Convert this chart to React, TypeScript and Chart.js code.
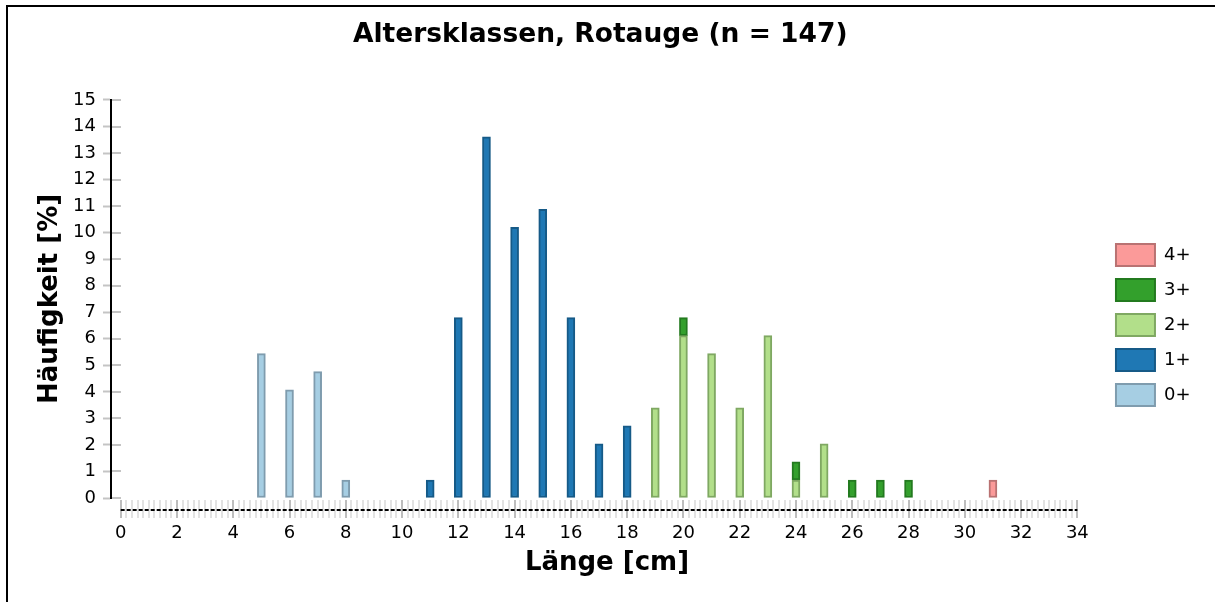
import React, { useEffect, useRef } from "react";
import { Chart, registerables } from "chart.js";

Chart.register(...registerables);

// ---- data (percent of n = 147) ----
const chartTitle = "Altersklassen, Rotauge (n = 147)";
const xTitle = "Länge [cm]";
const yTitle = "Häufigkeit [%]";

const ageClasses = ["0+", "1+", "2+", "3+", "4+"];

const lengths0 = [5, 6, 7, 8];
const values0 = [5.44, 4.08, 4.76, 0.68];

const lengths1 = [11, 12, 13, 14, 15, 16, 17, 18];
const values1 = [0.68, 6.8, 13.61, 10.2, 10.88, 6.8, 2.04, 2.72];

const lengths2 = [19, 20, 21, 22, 23, 24, 25];
const values2 = [3.4, 6.12, 5.44, 3.4, 6.12, 0.68, 2.04];

const lengths3 = [20, 24, 26, 27, 28];
const values3 = [0.68, 0.68, 0.68, 0.68, 0.68];

const lengths4 = [31];
const values4 = [0.68];

const xTickValues = [0, 2, 4, 6, 8, 10, 12, 14, 16, 18, 20, 22, 24, 26, 28, 30, 32, 34];
const yTickMin = 0;
const yTickMax = 15;

const fillColors = ["#a6cee3", "#1f78b4", "#b2df8a", "#33a02c", "#fb9a99"];
const borderColors = ["#7f9cae", "#165a87", "#7fa862", "#237a1f", "#b97272"];

const FONT = "'DejaVu Sans', sans-serif";

const toPoints = (xs: number[], ys: number[]) => xs.map((x, i) => ({ x, y: ys[i] }));

const axisBandPlugin = {
  id: "axisBand",
  afterDraw(chart: any) {
    const { ctx, scales, chartArea } = chart;
    const xs = scales.x;
    const ys = scales.y;
    ctx.save();
    // right part of y ticks crossing the axis line
    ctx.strokeStyle = "#c4c4c4";
    ctx.lineWidth = 2;
    ys.ticks.forEach((t: any) => {
      const py = Math.round(ys.getPixelForValue(t.value));
      ctx.beginPath();
      ctx.moveTo(chartArea.left + 1, py);
      ctx.lineTo(chartArea.left + 10, py);
      ctx.stroke();
    });
    // x band: minor ticks every 0.2, major every 2
    const first = xTickValues[0];
    const last = xTickValues[xTickValues.length - 1];
    const steps = Math.round((last - first) * 5);
    const yTop = chartArea.bottom + 2;
    const yBot = chartArea.bottom + 20;
    for (let k = 0; k <= steps; k++) {
      const v = first + k / 5;
      const px = Math.round(xs.getPixelForValue(v));
      ctx.strokeStyle = k % 10 === 0 ? "#bdbdbd" : "#e2e2e2";
      ctx.lineWidth = 2;
      ctx.beginPath();
      ctx.moveTo(px, yTop);
      ctx.lineTo(px, yBot);
      ctx.stroke();
    }
    ctx.strokeStyle = "#000";
    ctx.lineWidth = 2;
    ctx.setLineDash([4, 2]);
    ctx.beginPath();
    const yMid = chartArea.bottom + 12;
    ctx.moveTo(xs.getPixelForValue(first), yMid);
    ctx.lineTo(xs.getPixelForValue(last), yMid);
    ctx.stroke();
    ctx.restore();
  },
};

export default function App() {
  const ref = useRef<HTMLCanvasElement | null>(null);

  useEffect(() => {
    if (!ref.current) return;
    const seriesX = [lengths0, lengths1, lengths2, lengths3, lengths4];
    const seriesY = [values0, values1, values2, values3, values4];
    const chart = new Chart(ref.current, {
      type: "bar",
      data: {
        datasets: ageClasses.map((label, i) => ({
          label,
          data: toPoints(seriesX[i], seriesY[i]),
          backgroundColor: fillColors[i],
          borderColor: borderColors[i],
          borderWidth: 2,
          borderSkipped: false,
          barThickness: 8,
        })) as any,
      },
      options: {
        responsive: false,
        animation: false,
        devicePixelRatio: 1,
        layout: { padding: { left: 0, right: 14.5, top: 0, bottom: 0 } },
        plugins: {
          title: {
            display: true,
            text: chartTitle,
            color: "#000",
            font: { family: FONT, size: 26.5, weight: "bold" },
            padding: { top: 18.9, bottom: 49.3 },
          },
          legend: {
            position: "right",
            reverse: true,
            title: { display: true, text: "", font: { size: 10 }, padding: { top: 36, bottom: 0 } },
            labels: {
              boxWidth: 39,
              boxHeight: 22,
              padding: 13,
              color: "#000",
              font: { family: FONT, size: 18 },
            },
          },
          tooltip: { enabled: false },
        },
        scales: {
          x: {
            type: "linear",
            stacked: true,
            offset: false,
            min: -0.344,
            max: 34.91,
            grid: { display: false, drawTicks: false, offset: false },
            border: { display: false },
            afterBuildTicks: (s: any) => {
              s.ticks = xTickValues.map((v) => ({ value: v }));
            },
            afterFit: (s: any) => {
              s.height = 104;
            },
            ticks: {
              autoSkip: false,
              maxRotation: 0,
              padding: 24.8,
              color: "#000",
              font: { family: FONT, size: 18 },
              callback: (v: any) => String(v),
            },
            title: {
              display: true,
              text: xTitle,
              color: "#000",
              font: { family: FONT, size: 26, weight: "bold" },
              padding: { top: 0, bottom: 22.7 },
            },
          },
          y: {
            stacked: true,
            min: yTickMin,
            max: yTickMax,
            afterFit: (s: any) => {
              s.width = 111;
            },
            grid: {
              drawOnChartArea: false,
              drawTicks: true,
              tickLength: 8,
              tickColor: "#c4c4c4",
              tickWidth: 2,
            },
            border: { display: true, color: "#000", width: 2 },
            ticks: {
              stepSize: 1,
              padding: 7,
              color: "#000",
              font: { family: FONT, size: 18 },
            },
            title: {
              display: true,
              text: yTitle,
              color: "#000",
              font: { family: FONT, size: 26, weight: "bold" },
              padding: { top: 34.7, bottom: 0 },
            },
          },
        },
      } as any,
      plugins: [axisBandPlugin],
    });
    return () => chart.destroy();
  }, []);

  return (
    <div style={{ position: "fixed", left: 0, top: 0, width: 1215, height: 602, background: "#fff" }}>
      <div
        style={{
          position: "absolute",
          left: 6,
          top: 5,
          width: 3000,
          height: 3000,
          borderLeft: "2px solid #000",
          borderTop: "2px solid #000",
        }}
      />
      <canvas
        ref={ref}
        width={1215}
        height={602}
        style={{ position: "absolute", left: 0, top: 0, width: 1215, height: 602 }}
      />
    </div>
  );
}
